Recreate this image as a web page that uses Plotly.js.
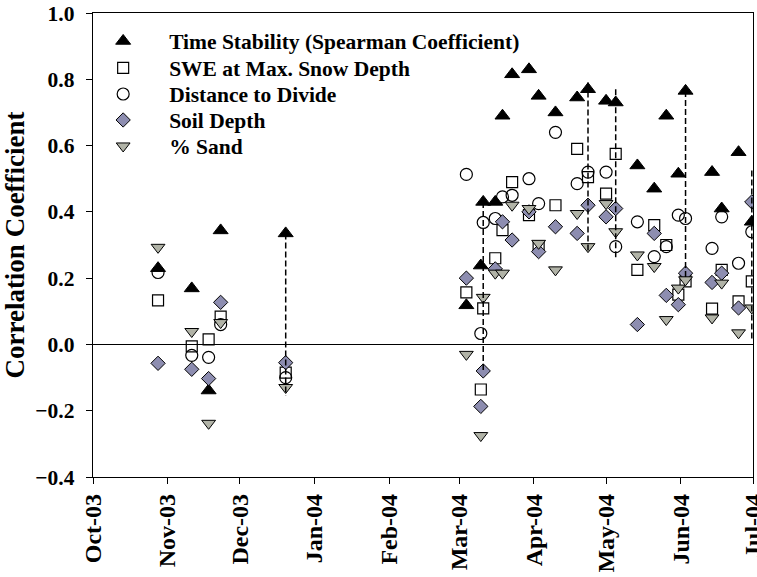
<!DOCTYPE html>
<html>
<head>
<meta charset="utf-8">
<script src="https://cdn.plot.ly/plotly-3.0.1.min.js"></script>
<style>html,body{margin:0;padding:0;background:#fff;}#chart{width:757px;height:577px;}</style>
</head>
<body>
<div id="chart"></div>
<script>
// Sampling dates
const dates = ['2003-10-28','2003-11-11','2003-11-18','2003-11-23','2003-12-20',
  '2004-03-04','2004-03-10','2004-03-11','2004-03-16','2004-03-19','2004-03-23','2004-03-30',
  '2004-04-03','2004-04-10','2004-04-19','2004-04-23 12:00','2004-05-01','2004-05-05',
  '2004-05-14','2004-05-21','2004-05-26','2004-05-31','2004-06-03','2004-06-14','2004-06-18',
  '2004-06-25','2004-06-30 12:00'];
// Series values
const timeStability = [0.23, 0.169, -0.139, 0.344, 0.335, 0.118, 0.238, 0.43, 0.43, 0.69, 0.815, 0.83,
  0.75, 0.70, 0.745, 0.77, 0.735, 0.73, 0.54, 0.47, 0.69, 0.515, 0.765, 0.52, 0.41, 0.58, 0.37];
const sweMaxSnow = [0.133, -0.006, 0.015, 0.084, -0.085, 0.157, -0.136, 0.109, 0.26, 0.345, 0.49, 0.39,
  0.295, 0.42, 0.59, 0.505, 0.455, 0.575, 0.225, 0.36, 0.30, 0.15, 0.19, 0.108, 0.225, 0.13, 0.19];
const distDivide = [0.217, -0.033, -0.039, 0.06, -0.10, 0.513, 0.033, 0.368, 0.38, 0.445, 0.45, 0.50,
  0.425, 0.64, 0.485, 0.52, 0.52, 0.295, 0.37, 0.265, 0.295, 0.39, 0.38, 0.29, 0.385, 0.245, 0.34];
const soilDepth = [-0.057, -0.075, -0.103, 0.127, -0.055, 0.2, -0.187, -0.08, 0.228, 0.37, 0.315, 0.40,
  0.28, 0.355, 0.335, 0.42, 0.385, 0.41, 0.06, 0.335, 0.148, 0.12, 0.215, 0.187, 0.215, 0.11, 0.43];
const pctSand = [0.293, 0.039, -0.238, 0.066, -0.13, -0.03, -0.275, 0.142, 0.215, 0.215, 0.42, 0.41,
  0.305, 0.225, 0.395, 0.295, 0.425, 0.34, 0.27, 0.235, 0.075, 0.17, 0.195, 0.08, 0.185, 0.035, 0.11];
// Dashed range lines
const dashDates = ['2003-12-20','2004-03-11','2004-04-23 12:00','2004-05-05','2004-06-03','2004-06-30 12:00'];
const dashTop = [0.335, 0.43, 0.79, 0.77, 0.765, 0.525];
const dashBottom = [-0.155, -0.085, 0.275, 0.26, 0.195, 0.01];
// Axis ticks
const monthTicks = ['2003-10-01','2003-11-01','2003-12-01','2004-01-01','2004-02-01','2004-03-01',
  '2004-04-01','2004-05-01','2004-06-01','2004-07-01'];
const monthLabels = ['Oct-03','Nov-03','Dec-03','Jan-04','Feb-04','Mar-04','Apr-04','May-04','Jun-04','Jul-04'];

const FONT = 'Liberation Serif, Times New Roman, serif';
const legendNames = ['legend', 'legend2', 'legend3', 'legend4', 'legend5'];

function mk(name, y, symbol, size, fill, idx) {
  return {
    type: 'scatter', mode: 'markers', name: name, x: dates, y: y, legend: legendNames[idx],
    marker: {symbol: symbol, size: size, color: fill, line: {color: '#000', width: 1}}
  };
}
const dx = [], dy = [];
dashDates.forEach((d, i) => { dx.push(d, d, null); dy.push(dashTop[i], dashBottom[i], null); });

const traces = [
  mk('Time Stability (Spearman Coefficient)', timeStability, 'triangle-up', 13, '#000', 0),
  mk('SWE at Max. Snow Depth', sweMaxSnow, 'square-open', 11, '#000', 1),
  mk('Distance to Divide', distDivide, 'circle-open', 12, '#000', 2),
  mk('Soil Depth', soilDepth, 'diamond', 11, '#8d8db0', 3),
  mk('% Sand', pctSand, 'triangle-down', 12, '#b1b3a7', 4),
  {type: 'scatter', mode: 'lines', x: dx, y: dy, showlegend: false, hoverinfo: 'skip',
   line: {color: '#000', width: 1.5, dash: '6px,3px'}}
];
traces[1].marker.line.width = 1.2;
traces[2].marker.line.width = 1.2;

const rowY = [0.9397, 0.8815, 0.8254, 0.7694, 0.7134];
function leg(i) {
  return {x: -0.024, y: rowY[i], xanchor: 'left', yanchor: 'middle', bgcolor: 'rgba(0,0,0,0)',
    font: {family: FONT, size: 21.5, color: '#000', weight: 'bold'}, itemwidth: 82};
}

const layout = {
  width: 757, height: 577,
  margin: {l: 93, r: 4, t: 13, b: 100},
  paper_bgcolor: '#fff', plot_bgcolor: '#fff',
  font: {family: FONT, color: '#000'},
  showlegend: true,
  legend: leg(0), legend2: leg(1), legend3: leg(2), legend4: leg(3), legend5: leg(4),
  xaxis: {
    type: 'date', range: ['2003-10-01', '2004-07-01'],
    tickmode: 'array', tickvals: monthTicks, ticktext: monthLabels, tickangle: -90,
    ticks: 'outside', ticklen: 6, tickcolor: '#000', tickwidth: 1, ticklabeloverflow: 'allow',
    showline: true, linecolor: '#000', linewidth: 1.3, mirror: true,
    showgrid: false, zeroline: false,
    tickfont: {family: FONT, size: 24, color: '#000', weight: 'bold'}
  },
  yaxis: {
    range: [-0.4, 1.0], tickmode: 'linear', tick0: -0.4, dtick: 0.2, tickformat: '.1f',
    ticks: 'outside', ticklen: 6, tickcolor: '#000', tickwidth: 1, ticklabelstandoff: 7,
    showline: true, linecolor: '#000', linewidth: 1.3, mirror: true,
    showgrid: false, zeroline: true, zerolinecolor: '#000', zerolinewidth: 1.2,
    tickfont: {family: FONT, size: 21.5, color: '#000', weight: 'bold'},
    title: {text: 'Correlation Coefficient', standoff: 6,
      font: {family: FONT, size: 27, color: '#000', weight: 'bold'}}
  }
};
Plotly.newPlot('chart', traces, layout, {displayModeBar: false, staticPlot: true});
</script>
</body>
</html>
